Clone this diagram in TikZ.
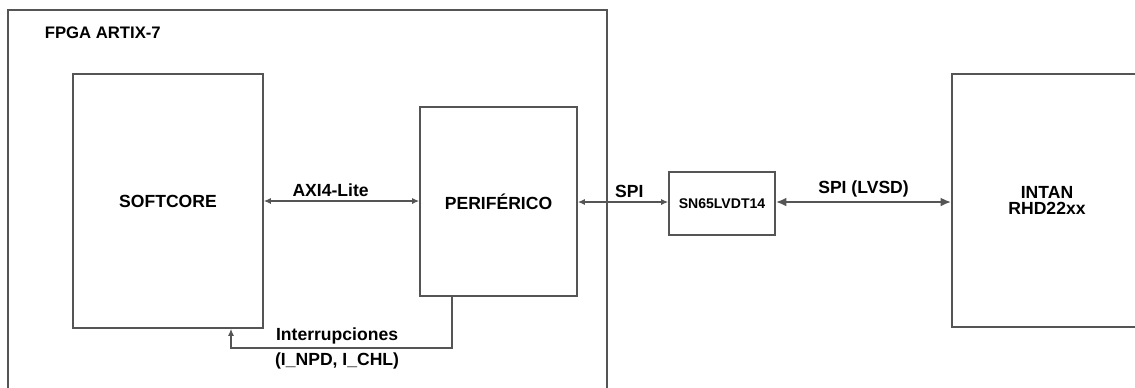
\documentclass[tikz,border=0pt]{standalone}
\usepackage{fontspec}
\setmainfont{Liberation Sans}
\usetikzlibrary{arrows.meta,positioning,calc}
\definecolor{LineGray}{HTML}{555555}

\begin{document}
\begin{tikzpicture}[x=0.02cm, y=-0.02cm,
  block/.style={draw=LineGray, line width=0.9pt, fill=white, text=black, inner sep=0pt, font=\bfseries\fontsize{10}{11.5}\selectfont, align=center},
  lbl/.style={text=black, font=\bfseries\fontsize{10}{11.5}\selectfont, inner sep=2pt},
  link/.style={LineGray, line width=0.9pt, {Latex[length=4pt,width=3.5pt]}-{Latex[length=4pt,width=3.5pt]}}]
% Page frame
\clip (0, 0) rectangle (1135, 387);
\useasboundingbox (0, 0) rectangle (1135, 387);

% FPGA container (open at the bottom)
\node[block, minimum width=11.98cm, minimum height=7.8cm] (fpga) at (307.5, 205) {};
\node[lbl, anchor=west, font=\bfseries\fontsize{9.5}{11}\selectfont] (fpgatitle) at (41, 33) {FPGA ARTIX-7};

% Blocks
\node[block, minimum width=3.8cm, minimum height=5.08cm] (softcore) at (168, 201) {SOFTCORE};
\node[block, minimum width=3.14cm, minimum height=3.78cm] (periferico) at (498.5, 201.5) {PERIFÉRICO};
\node[block, minimum width=2.12cm, minimum height=1.26cm, font=\bfseries\fontsize{8}{10}\selectfont] (sn65) at (722, 203.5) {SN65LVDT14};
\node[block, minimum width=3.8cm, minimum height=5.06cm] (intan) at (1047, 200.5) {INTAN\\[-2pt]RHD22xx};

% Buses
\draw[link] (softcore.east |- 0, 201) -- node[lbl, above, pos=0.43] {AXI4-Lite} (periferico.west |- 0, 201);
\draw[link] (periferico.east |- 0, 202) -- node[lbl, above, pos=0.57] {SPI} (sn65.west |- 0, 202);
\draw[link, line width=1.4pt, {Latex[length=6pt,width=5pt]}-{Latex[length=6pt,width=5pt]}] (sn65.east |- 0, 202) -- node[lbl, above] {SPI (LVSD)} (intan.west |- 0, 202);

% Interrupt line
\coordinate (irqa) at (452, 348);
\coordinate (irqb) at (231, 348);
\draw[LineGray, line width=0.9pt, -{Latex[length=4pt,width=3.5pt]}] (periferico.south -| irqa) -- (irqa)
  -- node[lbl, above, pos=0.52] {Interrupciones} node[lbl, below, pos=0.52] {(I\_NPD, I\_CHL)} (irqb) -- (softcore.south -| irqb);
\end{tikzpicture}
\end{document}
